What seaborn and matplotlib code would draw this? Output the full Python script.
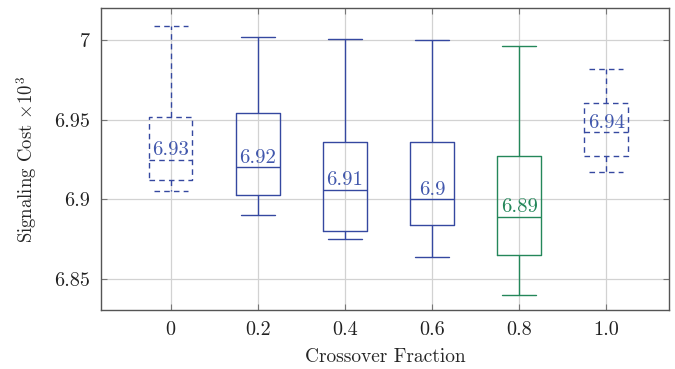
import numpy as np
import pandas as pd
import seaborn as sns
import matplotlib
matplotlib.use("Agg")
import matplotlib.pyplot as plt

# Crossover fraction groups and five-number summaries of signaling cost (x10^3)
fractions = ["0", "0.2", "0.4", "0.6", "0.8", "1.0"]
lower_whisker = [6.905, 6.890, 6.875, 6.864, 6.840, 6.917]
lower_quartile = [6.912, 6.903, 6.880, 6.884, 6.865, 6.9275]
median = [6.925, 6.920, 6.906, 6.900, 6.889, 6.942]
upper_quartile = [6.952, 6.954, 6.936, 6.936, 6.927, 6.9605]
upper_whisker = [7.009, 7.002, 7.001, 7.000, 6.996, 6.982]
mean_labels = ["6.93", "6.92", "6.91", "6.9", "6.89", "6.94"]
dashed_groups = ["0", "1.0"]

BLUE = "#3548a0"
GREEN = "#24875a"
colors = {f: (GREEN if f == "0.8" else BLUE) for f in fractions}

rows = []
for i, f in enumerate(fractions):
    for v in (lower_whisker[i], lower_quartile[i], median[i],
              upper_quartile[i], upper_whisker[i]):
        rows.append({"fraction": f, "cost": v})
df = pd.DataFrame(rows)

sns.set_theme(style="whitegrid")
plt.rcParams["font.family"] = ["cmr10", "DejaVu Serif"]
plt.rcParams["mathtext.fontset"] = "cm"
plt.rcParams["axes.formatter.use_mathtext"] = True
plt.rcParams["axes.unicode_minus"] = False

fig = plt.figure(figsize=(6.75, 3.69), dpi=100)
ax = fig.add_axes([0.1496, 0.160, 0.8415, 0.818])

sns.boxplot(data=df, x="fraction", y="cost", hue="fraction", order=fractions,
            palette=colors, fill=False, legend=False, width=0.5,
            whis=(0, 100), linewidth=1.0, ax=ax)

# Per-box styling: dashed outlines for two groups, narrower caps
for f, cont in zip(fractions, ax.containers):
    ls = (0, (4, 3)) if f in dashed_groups else "-"
    for art in list(cont.boxes) + list(cont.whiskers) + list(cont.caps) + list(cont.medians):
        art.set_linestyle(ls)
        art.set_linewidth(1.0)
    for cap in cont.caps:
        xd = cap.get_xdata()
        c = 0.5 * (xd[0] + xd[1])
        cap.set_xdata([c - 0.195, c + 0.195])

for i, f in enumerate(fractions):
    ax.text(i, median[i] + 0.0003, mean_labels[i], ha="center", va="bottom",
            fontsize=15, color=(GREEN if f == "0.8" else "#4258ad"))

ax.set_xlim(-0.8, 5.72)
ax.set_ylim(6.8305, 7.0201)
ax.set_yticks([6.85, 6.9, 6.95, 7.0])
ax.set_yticklabels(["6.85", "6.9", "6.95", "7"])
ax.set_xlabel("Crossover Fraction", fontsize=14, labelpad=6.5)
ax.set_ylabel(r"Signaling Cost $\times 10^3$", fontsize=13.5, labelpad=11)

ax.grid(True, color="#d2d2d2", linewidth=0.9)
ax.set_axisbelow(True)
for s in ax.spines.values():
    s.set_visible(True)
    s.set_color("#555555")
    s.set_linewidth(1.0)
ax.tick_params(axis="both", direction="in", length=4, width=0.8, color="#777777",
               labelsize=14.5, labelcolor="#222222", top=True, right=True,
               bottom=True, left=True, pad=8)

fig.savefig("out.png", dpi=100)
